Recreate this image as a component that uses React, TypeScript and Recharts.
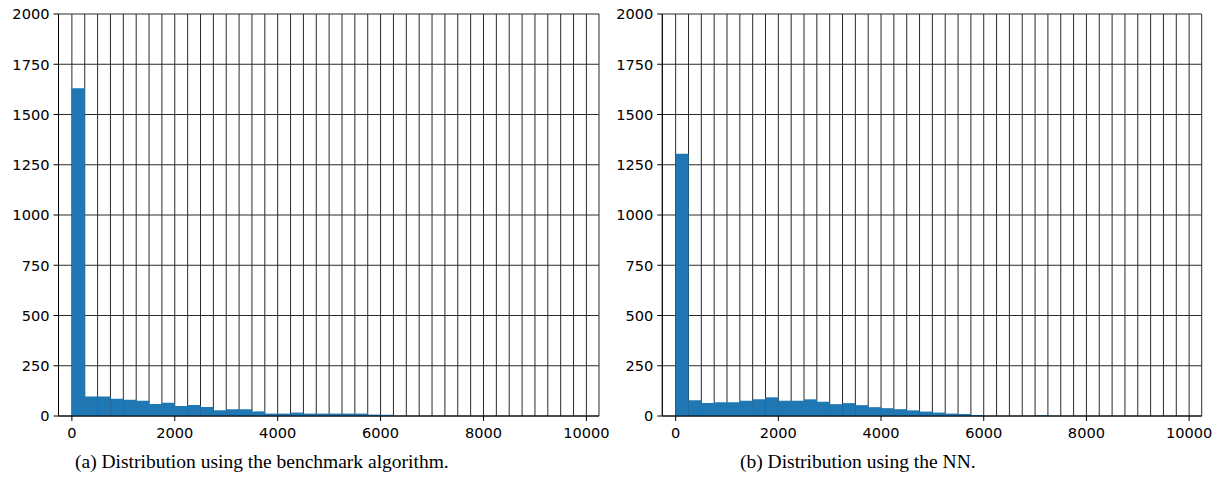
import React from 'react'
import { BarChart, Bar, XAxis, YAxis, CartesianGrid } from 'recharts'

// left edge of each 250-wide bin
const binStarts = [
  0, 250, 500, 750, 1000, 1250, 1500, 1750, 2000, 2250,
  2500, 2750, 3000, 3250, 3500, 3750, 4000, 4250, 4500, 4750,
  5000, 5250, 5500, 5750, 6000, 6250, 6500, 6750, 7000, 7250,
  7500, 7750, 8000, 8250, 8500, 8750, 9000, 9250, 9500, 9750,
]

const benchmarkCounts = [
  1630, 97, 97, 86, 81, 76, 60, 66, 50, 55,
  45, 28, 33, 33, 23, 12, 12, 17, 12, 12,
  12, 12, 12, 7, 6, 0, 0, 0, 0, 0,
  0, 0, 0, 0, 0, 0, 0, 0, 0, 0,
]

const nnCounts = [
  1305, 78, 65, 69, 69, 76, 83, 93, 76, 76,
  83, 71, 59, 64, 54, 44, 39, 34, 28, 22,
  17, 12, 10, 5, 0, 0, 0, 0, 4, 0,
  0, 0, 0, 0, 0, 0, 0, 0, 0, 0,
]

const yTicks = [0, 250, 500, 750, 1000, 1250, 1500, 1750, 2000]

const xGridTicks = [
  0, 250, 500, 750, 1000, 1250, 1500, 1750, 2000, 2250,
  2500, 2750, 3000, 3250, 3500, 3750, 4000, 4250, 4500, 4750,
  5000, 5250, 5500, 5750, 6000, 6250, 6500, 6750, 7000, 7250,
  7500, 7750, 8000, 8250, 8500, 8750, 9000, 9250, 9500, 9750, 10000,
]

const xLabelTicks = [0, 2000, 4000, 6000, 8000, 10000]

const captions = [
  '(a) Distribution using the benchmark algorithm.',
  '(b) Distribution using the NN.',
]

const xDomain = [-260, 10245]
const tickFont = "'DejaVu Sans', sans-serif"
const tickSize = 14.6

function XTick(props: any) {
  const { x, y, payload } = props
  if (!xLabelTicks.includes(payload.value)) return <g />
  return (
    <g>
      <line x1={x} x2={x} y1={y} y2={y + 5} stroke="#000" />
      <text
        x={x}
        y={y + 12}
        dy="0.71em"
        textAnchor="middle"
        fontSize={tickSize}
        fontFamily={tickFont}
        fill="#000"
      >
        {payload.value}
      </text>
    </g>
  )
}

function YTick(props: any) {
  const { x, y, payload } = props
  return (
    <text
      x={x}
      y={y}
      dy="0.36em"
      textAnchor="end"
      fontSize={tickSize}
      fontFamily={tickFont}
      fill="#000"
    >
      {payload.value}
    </text>
  )
}

function Histogram({ counts, left, marginLeft, marginRight }: any) {
  const data = binStarts.map((s, i) => ({ mid: s + 125, count: counts[i] }))
  return (
    <div style={{ position: 'absolute', left, top: 0 }}>
      <BarChart
        width={610}
        height={450}
        data={data}
        margin={{ top: 14, right: marginRight, bottom: 4, left: marginLeft }}
        barCategoryGap={0}
        barGap={0}
      >
        <XAxis
          type="number"
          dataKey="mid"
          domain={xDomain}
          allowDataOverflow
          ticks={xGridTicks}
          interval={0}
          tickLine={false}
          tickSize={0}
          tickMargin={0}
          height={30}
          stroke="#000"
          tick={<XTick />}
        />
        <YAxis
          type="number"
          domain={[0, 2000]}
          allowDataOverflow
          ticks={yTicks}
          interval={0}
          width={58}
          tickSize={5}
          tickMargin={4}
          stroke="#000"
          tick={<YTick />}
        />
        <XAxis
          xAxisId="top"
          orientation="top"
          type="number"
          domain={xDomain}
          allowDataOverflow
          height={0}
          tick={false}
          tickLine={false}
          stroke="#000"
        />
        <YAxis
          yAxisId="right"
          orientation="right"
          type="number"
          domain={[0, 2000]}
          allowDataOverflow
          width={0}
          tick={false}
          tickLine={false}
          stroke="#000"
        />
        <Bar dataKey="count" fill="#1f77b4" isAnimationActive={false} />
        <CartesianGrid stroke="#2a2a2a" strokeWidth={1} />
      </BarChart>
    </div>
  )
}

export default function App() {
  return (
    <div
      style={{
        position: 'absolute',
        left: 0,
        top: 0,
        width: 1220,
        height: 486,
        background: '#fff',
        overflow: 'hidden',
      }}
    >
      <Histogram counts={benchmarkCounts} left={0} marginLeft={0.5} marginRight={11} />
      <Histogram counts={nnCounts} left={604} marginLeft={0.3} marginRight={12.3} />
      <svg
        width={1220}
        height={486}
        style={{ position: 'absolute', left: 0, top: 0, pointerEvents: 'none' }}
      >
        <text x={75} y={468} fontSize={19.5} fontFamily="'Liberation Serif', serif" fill="#000">
          {captions[0]}
        </text>
        <text x={740} y={468} fontSize={19.5} fontFamily="'Liberation Serif', serif" fill="#000">
          {captions[1]}
        </text>
      </svg>
    </div>
  )
}
